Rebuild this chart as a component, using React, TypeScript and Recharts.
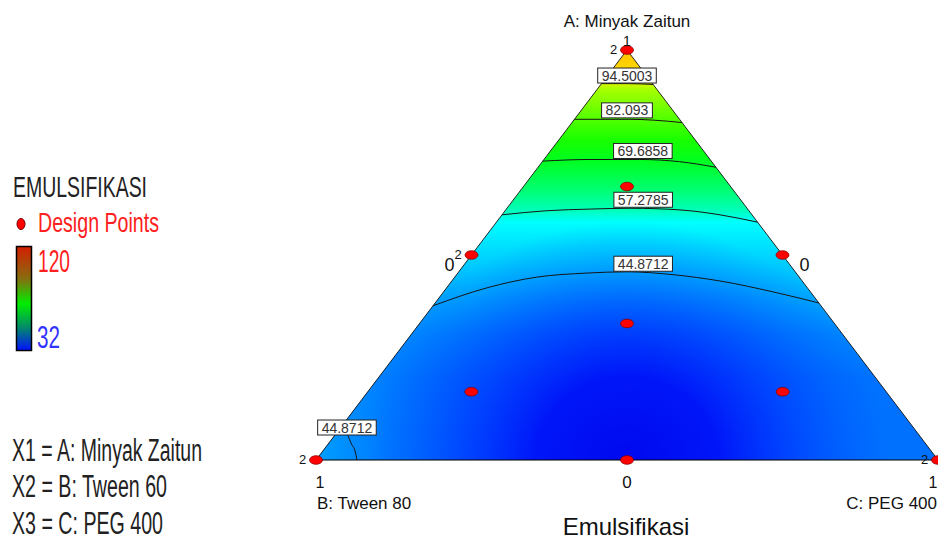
import React from 'react';
import { ComposedChart, XAxis, YAxis, Area, Line, Scatter } from 'recharts';

// ---- Data (ternary compositions: a = A Minyak Zaitun, b = B Tween 80, c = C PEG 400) ----
const triangle = [
  { a: 0, b: 1, c: 0 },
  { a: 1, b: 0, c: 0 },
  { a: 0, b: 0, c: 1 },
];
const bottomEdge = [
  { a: 0, b: 1, c: 0 },
  { a: 0, b: 0, c: 1 },
];

const designPoints = [
  { a: 1, b: 0, c: 0, reps: 2 },
  { a: 0.667, b: 0.1665, c: 0.1665, reps: 1 },
  { a: 0.5, b: 0.5, c: 0, reps: 2 },
  { a: 0.5, b: 0, c: 0.5, reps: 1 },
  { a: 0.333, b: 0.3335, c: 0.3335, reps: 1 },
  { a: 0.1665, b: 0.667, c: 0.1665, reps: 1 },
  { a: 0.1665, b: 0.1665, c: 0.667, reps: 1 },
  { a: 0, b: 1, c: 0, reps: 2 },
  { a: 0, b: 0.5, c: 0.5, reps: 1 },
  { a: 0, b: 0, c: 1, reps: 2 },
];

const contour94 = [
  { a: 0.918, b: 0.082, c: 0 },
  { a: 0.918, b: 0.041, c: 0.041 },
  { a: 0.916, b: 0, c: 0.084 },
];
const contour82 = [
  { a: 0.831, b: 0.169, c: 0 },
  { a: 0.831, b: 0.0815, c: 0.0875 },
  { a: 0.829, b: 0.0435, c: 0.1275 },
  { a: 0.823, b: 0, c: 0.177 },
];
const contour69 = [
  { a: 0.729, b: 0.271, c: 0 },
  { a: 0.733, b: 0.193, c: 0.074 },
  { a: 0.733, b: 0.113, c: 0.154 },
  { a: 0.7276, b: 0.0514, c: 0.221 },
  { a: 0.714, b: 0, c: 0.286 },
];
const contour57 = [
  { a: 0.598, b: 0.402, c: 0 },
  { a: 0.608, b: 0.325, c: 0.067 },
  { a: 0.612, b: 0.2535, c: 0.1345 },
  { a: 0.614, b: 0.188, c: 0.198 },
  { a: 0.61, b: 0.11, c: 0.28 },
  { a: 0.598, b: 0.0515, c: 0.3505 },
  { a: 0.58, b: 0, c: 0.42 },
];
const contour44 = [
  { a: 0.376, b: 0.624, c: 0 },
  { a: 0.42, b: 0.515, c: 0.065 },
  { a: 0.446, b: 0.422, c: 0.132 },
  { a: 0.456, b: 0.336, c: 0.208 },
  { a: 0.459, b: 0.27, c: 0.271 },
  { a: 0.452, b: 0.2, c: 0.348 },
  { a: 0.4366, b: 0.1322, c: 0.4312 },
  { a: 0.41, b: 0.06, c: 0.53 },
  { a: 0.383, b: 0, c: 0.617 },
];
const contour44Corner = [
  { a: 0.0878, b: 0.9122, c: 0 },
  { a: 0.0585, b: 0.919, c: 0.0225 },
  { a: 0.0415, b: 0.923, c: 0.0355 },
  { a: 0.0195, b: 0.927, c: 0.0535 },
  { a: 0, b: 0.934, c: 0.066 },
];
const contourLines = [contour94, contour82, contour69, contour57, contour44, contour44Corner];

const contourLabels = [
  { a: 0.917, b: 0.0415, c: 0.0415, text: '94.5003' },
  { a: 0.832, b: 0.084, c: 0.084, text: '82.093' },
  { a: 0.733, b: 0.108, c: 0.159, text: '69.6858' },
  { a: 0.614, b: 0.167, c: 0.219, text: '57.2785' },
  { a: 0.458, b: 0.245, c: 0.297, text: '44.8712' },
  { a: 0.0585, b: 0.921, c: 0.0205, text: '44.8712' },
];

const tickLabels = [
  { a: 1, b: 0, c: 0, text: '1' },
  { a: 0, b: 1, c: 0, text: '1' },
  { a: 0, b: 0, c: 1, text: '1' },
  { a: 0.5, b: 0.5, c: 0, text: '0' },
  { a: 0.5, b: 0, c: 0.5, text: '0' },
  { a: 0, b: 0.5, c: 0.5, text: '0' },
];
const vertexNames = [
  { a: 1, b: 0, c: 0, text: 'A: Minyak Zaitun' },
  { a: 0, b: 1, c: 0, text: 'B: Tween 80' },
  { a: 0, b: 0, c: 1, text: 'C: PEG 400' },
];

const responseName = 'EMULSIFIKASI';
const responseTitle = 'Emulsifikasi';
const colorRange = ['120', '32'];
const factorLegend = ['X1 = A: Minyak Zaitun', 'X2 = B: Tween 60', 'X3 = C: PEG 400'];

// ---- Layout / style (not data) ----
const FONT = '"Liberation Sans", Arial, sans-serif';
const tickLayout = [
  { dx: 0, dy: -4, anchor: 'middle', size: 14 },
  { dx: 4, dy: 28, anchor: 'middle', size: 16 },
  { dx: -5, dy: 28, anchor: 'middle', size: 16 },
  { dx: -22, dy: 16, anchor: 'middle', size: 18 },
  { dx: 22, dy: 16, anchor: 'middle', size: 18 },
  { dx: 0, dy: 28, anchor: 'middle', size: 17 },
];
const nameLayout = [
  { dx: 0, dy: -23, anchor: 'middle' },
  { dx: 1, dy: 49, anchor: 'start' },
  { dx: -1, dy: 49, anchor: 'end' },
];
const legendBaselines = [461, 497, 534];
const legendWidths = [190, 155, 151];

const toXY = (p: any) => ({ ...p, x: p.c + p.a / 2, y: p.a });

const triangleXY = triangle.map(toXY);
const bottomXY = bottomEdge.map(toXY);
const designXY = designPoints.map(toXY);
const contourXY = contourLines.map((l) => l.map(toXY));
const contourLabelXY = contourLabels.map(toXY);
const tickXY = tickLabels.map((t, i) => ({ ...toXY(t), idx: i }));
const nameXY = vertexNames.map((t, i) => ({ ...toXY(t), idx: i }));

const DesignShape = (props: any) => {
  const { cx, cy, payload } = props;
  return (
    <g>
      <ellipse cx={cx} cy={cy} rx={6.5} ry={4.3} fill="#ff0000" stroke="#8a0000" strokeWidth={0.8} />
      {payload.reps > 1 && (
        <text x={cx - 13.5} y={cy + 4} fontSize={13} fontFamily={FONT} fill="#111" textAnchor="middle">
          {payload.reps}
        </text>
      )}
    </g>
  );
};

const LabelShape = (props: any) => {
  const { cx, cy, payload } = props;
  const t: string = payload.text;
  const digits = t.replace('.', '').length;
  const w = digits * 7.78 + 3.89 * (t.length - digits) + 8;
  return (
    <g>
      <rect x={cx - w / 2} y={cy - 16} width={w} height={15} fill="#fff" stroke="#222" strokeWidth={1} />
      <text x={cx} y={cy - 3.5} fontSize={14} fontFamily={FONT} fill="#333" textAnchor="middle">
        {t}
      </text>
    </g>
  );
};

const TickShape = (props: any) => {
  const { cx, cy, payload } = props;
  const l = tickLayout[payload.idx];
  return (
    <text x={cx + l.dx} y={cy + l.dy} fontSize={l.size} fontFamily={FONT} fill="#111" textAnchor={l.anchor}>
      {payload.text}
    </text>
  );
};

const NameShape = (props: any) => {
  const { cx, cy, payload } = props;
  const l = nameLayout[payload.idx];
  return (
    <text x={cx + l.dx} y={cy + l.dy} fontSize={17} fontFamily={FONT} fill="#111" textAnchor={l.anchor}>
      {payload.text}
    </text>
  );
};

export default function App() {
  return (
    <div style={{ position: 'absolute', left: 0, top: 0, width: 938, height: 541, overflow: 'hidden', background: '#fff' }}>
      <ComposedChart
        width={938}
        height={541}
        data={triangleXY}
        margin={{ top: 50, right: 0, bottom: 81, left: 316 }}
        style={{ position: 'absolute', left: 0, top: 0, overflow: 'visible' }}
      >
        <defs>
          <linearGradient id="fieldV" x1="0" y1="0" x2="0" y2="1">
            <stop offset="0" stopColor="#ffbe00" />
            <stop offset="0.06" stopColor="#ffe000" />
            <stop offset="0.082" stopColor="#d8f400" />
            <stop offset="0.095" stopColor="#a8ff00" />
            <stop offset="0.17" stopColor="#50ff00" />
            <stop offset="0.22" stopColor="#18ff00" />
            <stop offset="0.27" stopColor="#00ff20" />
            <stop offset="0.34" stopColor="#00ff70" />
            <stop offset="0.39" stopColor="#00ffb8" />
            <stop offset="0.42" stopColor="#00ffff" />
            <stop offset="0.47" stopColor="#00e4ff" />
            <stop offset="0.54" stopColor="#00c4ff" />
            <stop offset="0.61" stopColor="#00a4ff" />
            <stop offset="0.69" stopColor="#0086ff" />
            <stop offset="0.8" stopColor="#0072ff" />
            <stop offset="1" stopColor="#0070ff" />
          </linearGradient>
          <radialGradient
            id="fieldR"
            cx="0.5"
            cy="1"
            r="1"
            gradientTransform="translate(0.5 1) scale(0.42 0.58) translate(-0.5 -1)"
          >
            <stop offset="0" stopColor="#0008f0" stopOpacity={1} />
            <stop offset="0.35" stopColor="#000ef8" stopOpacity={0.92} />
            <stop offset="0.65" stopColor="#0020ff" stopOpacity={0.48} />
            <stop offset="1" stopColor="#0040ff" stopOpacity={0} />
          </radialGradient>
          <linearGradient id="fieldH" x1="0" y1="0" x2="1" y2="0">
            <stop offset="0" stopColor="#00b0ff" stopOpacity={0.75} />
            <stop offset="0.12" stopColor="#0090ff" stopOpacity={0.35} />
            <stop offset="0.25" stopColor="#0080ff" stopOpacity={0} />
            <stop offset="1" stopColor="#0080ff" stopOpacity={0} />
          </linearGradient>
        </defs>
        <XAxis dataKey="x" type="number" domain={[0, 1]} hide />
        <YAxis type="number" domain={[0, 1]} hide />
        <Area dataKey="y" type="linear" fill="url(#fieldV)" fillOpacity={1} stroke="none" isAnimationActive={false} />
        <Area dataKey="y" type="linear" fill="url(#fieldH)" fillOpacity={1} stroke="none" isAnimationActive={false} />
        <Area dataKey="y" type="linear" fill="url(#fieldR)" fillOpacity={1} stroke="#111" strokeWidth={0.9} isAnimationActive={false} />
        <Line data={bottomXY} dataKey="y" type="linear" stroke="#000" strokeWidth={1.2} dot={false} isAnimationActive={false} />
        {contourXY.map((pts, i) => (
          <Line
            key={i}
            data={pts}
            dataKey="y"
            type="monotone"
            stroke="#151515"
            strokeWidth={1}
            dot={false}
            isAnimationActive={false}
          />
        ))}
        <Scatter data={contourLabelXY} dataKey="y" shape={LabelShape} isAnimationActive={false} />
        <Scatter data={designXY} dataKey="y" shape={DesignShape} isAnimationActive={false} />
        <Scatter data={tickXY} dataKey="y" shape={TickShape} isAnimationActive={false} />
        <Scatter data={nameXY} dataKey="y" shape={NameShape} isAnimationActive={false} />
      </ComposedChart>
      <svg width={938} height={541} style={{ position: 'absolute', left: 0, top: 0, pointerEvents: 'none' }}>
        <defs>
          <linearGradient id="cbar" x1="0" y1="0" x2="0" y2="1">
            <stop offset="0" stopColor="#d41e00" />
            <stop offset="0.3" stopColor="#8a6a10" />
            <stop offset="0.55" stopColor="#00ee00" />
            <stop offset="0.78" stopColor="#008a6a" />
            <stop offset="1" stopColor="#0010ff" />
          </linearGradient>
        </defs>
        <text x={13} y={197} fontSize={30} fontFamily={FONT} fill="#222" textLength={134} lengthAdjust="spacingAndGlyphs">
          {responseName}
        </text>
        <ellipse cx={21} cy={224} rx={4} ry={5.5} fill="#ff0000" stroke="#700000" strokeWidth={1} />
        <text x={38} y={232} fontSize={28} fontFamily={FONT} fill="#ff2020" textLength={121} lengthAdjust="spacingAndGlyphs">
          Design Points
        </text>
        <rect x={16.5} y={246.5} width={15} height={104} fill="url(#cbar)" stroke="#000" strokeWidth={1.5} />
        <text x={38} y={272} fontSize={31} fontFamily={FONT} fill="#ff2020" textLength={32} lengthAdjust="spacingAndGlyphs">
          {colorRange[0]}
        </text>
        <text x={37} y={348} fontSize={31} fontFamily={FONT} fill="#3333ff" textLength={23} lengthAdjust="spacingAndGlyphs">
          {colorRange[1]}
        </text>
        {factorLegend.map((t, i) => (
          <text
            key={t}
            x={12}
            y={legendBaselines[i]}
            fontSize={31}
            fontFamily={FONT}
            fill="#222"
            textLength={legendWidths[i]}
            lengthAdjust="spacingAndGlyphs"
          >
            {t}
          </text>
        ))}
        <text x={626} y={535} fontSize={24} fontFamily={FONT} fill="#111" textAnchor="middle">
          {responseTitle}
        </text>
      </svg>
    </div>
  );
}
